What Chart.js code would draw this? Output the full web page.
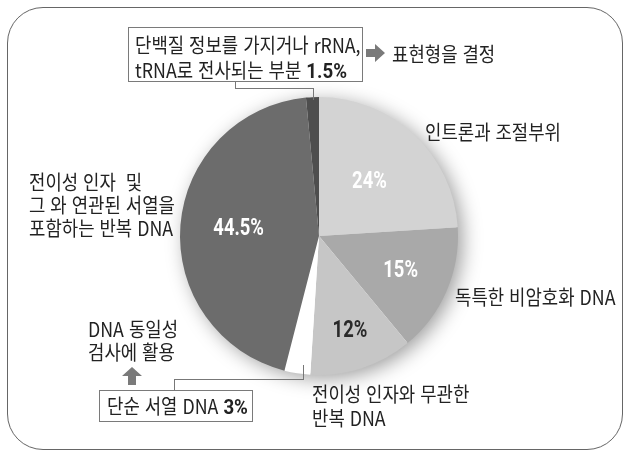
<!DOCTYPE html>
<html lang="ko">
<head>
<meta charset="utf-8">
<script src="https://cdn.jsdelivr.net/npm/chart.js@4.4.1/dist/chart.umd.min.js"></script>
<style>
  html, body { margin: 0; padding: 0; background: #fff; }
  #wrap { position: relative; width: 624px; height: 452px; overflow: hidden;
          font-family: "Noto Sans CJK KR", sans-serif; color: #222; }
  #frame { position: absolute; left: 7px; top: 7px; width: 616px; height: 443px;
           border: 1.5px solid #666; border-radius: 36px; box-sizing: border-box; }
  canvas { position: absolute; left: 0; top: 0; }
  .lbl { position: absolute; font-size: 20px; line-height: 23px; white-space: nowrap;
         transform: scaleX(0.89); transform-origin: 0 0; }
  .lbl b { font-family: Roboto, sans-serif; font-weight: 700; font-size: 21px; }
  .box { position: absolute; border: 1px solid #7a7a7a; background: #fff; box-sizing: border-box; }
  .ln { position: absolute; background: #777; }
  svg.arrow { position: absolute; }
</style>
</head>
<body>
<div id="wrap">
  <div id="frame"></div>
  <canvas id="pie" width="624" height="452"></canvas>

  <!-- top callout (1.5%) -->
  <div class="ln" style="left:235px;top:81px;width:1px;height:8px"></div>
  <div class="ln" style="left:235px;top:88px;width:79px;height:1px"></div>
  <div class="ln" style="left:313px;top:88px;width:1px;height:12px"></div>
  <div class="box" style="left:128px;top:27px;width:235px;height:55px"></div>
  <div class="lbl" style="left:135px;top:32px;line-height:25px">단백질 정보를 가지거나 rRNA,<br>tRNA로 전사되는 부분 <b id="v15"></b></div>
  <svg class="arrow" style="left:366px;top:44px" width="20" height="18">
    <polygon points="0,5 9,5 9,0 19,9 9,18 9,13 0,13" fill="#7a7a7a"/>
  </svg>
  <div class="lbl" style="left:392px;top:42px">표현형을 결정</div>

  <!-- slice names -->
  <div class="lbl" style="left:425px;top:120px">인트론과 조절부위</div>
  <div class="lbl" style="left:455px;top:285px">독특한 비암호화 DNA</div>
  <div class="lbl" style="left:312px;top:382px;line-height:24px">전이성 인자와 무관한<br>반복 DNA</div>
  <div class="lbl" style="left:29px;top:170px">전이성 인자&nbsp;&nbsp;및<br>그 와 연관된 서열을<br>포함하는 반복 DNA</div>

  <!-- bottom callout (3%) -->
  <div class="lbl" style="left:88px;top:317px;line-height:23px">DNA 동일성<br>검사에 활용</div>
  <svg class="arrow" style="left:122px;top:367px" width="20" height="18">
    <polygon points="10,0 20,9 14,9 14,18 6,18 6,9 0,9" fill="#7a7a7a"/>
  </svg>
  <div class="ln" style="left:174px;top:379px;width:1px;height:12px"></div>
  <div class="ln" style="left:174px;top:379px;width:130px;height:1px"></div>
  <div class="ln" style="left:303px;top:365px;width:1px;height:15px"></div>
  <div class="box" style="left:99px;top:390px;width:154px;height:32px"></div>
  <div class="lbl" style="left:107px;top:394px">단순 서열 DNA <b id="v3"></b></div>
</div>

<script>
// genome composition, clockwise from 12 o'clock
const categories = [
  "인트론과 조절부위",
  "독특한 비암호화 DNA",
  "전이성 인자와 무관한 반복 DNA",
  "단순 서열 DNA",
  "전이성 인자 및 그 와 연관된 서열을 포함하는 반복 DNA",
  "단백질 정보를 가지거나 rRNA, tRNA로 전사되는 부분",
]
const shares = [24, 15, 12, 3, 44.5, 1.5]

const sliceColors = ["#d3d3d3", "#a9a9a9", "#c6c6c6", "#ffffff", "#6c6c6c", "#4e4e4e"]
// where the percentage sits along the radius (null = shown in a callout box)
const labelRadius = [0.53, 0.64, 0.72, null, 0.58, null]
const labelColors = ["#fff", "#fff", "#2a2a2a", null, "#fff", null]

document.getElementById("v15").textContent = shares[5] + "%"
document.getElementById("v3").textContent = shares[3] + "%"

// soft grey halo behind the pie
const halo = {
  id: "halo",
  beforeDatasetsDraw(chart) {
    const arc = chart.getDatasetMeta(0).data[0]
    if (!arc) return
    const ctx = chart.ctx
    ctx.save()
    ctx.shadowColor = "rgba(0,0,0,0.4)"
    ctx.shadowBlur = 20
    ctx.shadowOffsetX = 5
    ctx.shadowOffsetY = 4
    ctx.beginPath()
    ctx.arc(arc.x, arc.y, arc.outerRadius - 1, 0, Math.PI * 2)
    ctx.fillStyle = "#fff"
    ctx.fill()
    ctx.restore()
  },
}

// percentage text inside the big slices
const pctLabels = {
  id: "pctLabels",
  afterDatasetsDraw(chart) {
    const ctx = chart.ctx
    chart.getDatasetMeta(0).data.forEach((arc, i) => {
      if (labelRadius[i] == null) return
      const mid = (arc.startAngle + arc.endAngle) / 2
      const r = arc.outerRadius * labelRadius[i]
      const x = arc.x + Math.cos(mid) * r
      const y = arc.y + Math.sin(mid) * r
      ctx.save()
      ctx.translate(x, y)
      ctx.scale(0.8, 1)
      ctx.font = "bold 23px Roboto, sans-serif"
      ctx.fillStyle = labelColors[i]
      ctx.textAlign = "center"
      ctx.textBaseline = "middle"
      ctx.fillText(shares[i] + "%", 0, 0)
      ctx.restore()
    })
  },
}

new Chart(document.getElementById("pie"), {
  type: "pie",
  data: {
    labels: categories,
    datasets: [{
      data: shares,
      backgroundColor: sliceColors,
      borderWidth: 0,
    }],
  },
  options: {
    responsive: false,
    animation: false,
    layout: { padding: { top: 97, bottom: 77, left: 180, right: 166 } },
    plugins: {
      legend: { display: false },
      tooltip: { enabled: false },
    },
  },
  plugins: [halo, pctLabels],
})
</script>
</body>
</html>
